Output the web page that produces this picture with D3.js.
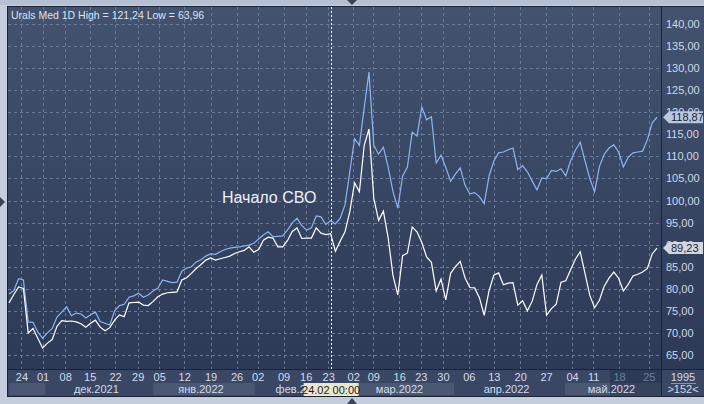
<!DOCTYPE html>
<html lang='ru'>
<head>
<meta charset='utf-8'>
<title>Urals Med</title>
<style>
  body { margin: 0; background: #c3cddb; }
  svg { display: block; font-family: 'Liberation Sans', Arial, sans-serif; }
</style>
<script src='https://d3js.org/d3.v7.min.js'></script>
</head>
<body>
<svg id='chart' width='704' height='404'></svg>
<script>
// upper (blue) line and Urals Med (white) line, one value per trading day
const brent = [78.8, 79.6, 82.3, 82.0, 72.5, 72.4, 70.2, 68.8, 70.0, 71.0,
  73.6, 74.7, 75.9, 73.9, 74.5, 74.3, 73.4, 74.1, 74.7, 72.6,
  72.2, 71.8, 75.0, 76.2, 76.5, 78.1, 78.4, 79.0, 78.1, 78.6,
  79.5, 80.1, 82.0, 81.7, 81.4, 81.5, 84.0, 84.7, 85.0, 86.1,
  86.6, 87.4, 87.9, 87.8, 88.4, 88.9, 89.2, 89.4, 89.5, 89.7,
  89.9, 90.3, 91.3, 92.2, 92.9, 91.8, 91.9, 92.0, 93.3, 94.9,
  96.0, 94.3, 93.3, 93.8, 96.5, 96.3, 94.6, 95.4, 94.7, 96.0,
  99.0, 106.5, 114.0, 112.5, 121.0, 129.1, 112.5, 110.5, 112.1, 107.5,
  102.0, 98.3, 105.5, 107.6, 115.5, 114.6, 121.2, 118.3, 119.0, 108.5,
  110.3, 107.5, 104.4, 106.0, 107.4, 103.5, 101.5, 101.8, 100.9, 99.3,
  105.5, 108.9, 110.8, 111.0, 111.5, 111.9, 107.0, 107.9, 106.5, 104.4,
  102.4, 105.1, 104.9, 106.8, 106.6, 107.2, 105.6, 109.0, 111.4, 113.2,
  109.0, 105.0, 102.0, 107.7, 110.5, 111.9, 112.6, 111.0, 107.6, 109.8,
  110.8, 111.0, 111.2, 113.8, 117.6, 118.87];

const urals = [76.8, 78.7, 80.4, 80.1, 70.0, 71.0, 68.8, 66.6, 67.7, 68.5,
  71.5, 72.8, 72.6, 72.7, 72.5, 72.1, 71.3, 72.2, 72.9, 71.3,
  70.5, 71.2, 72.9, 74.1, 73.7, 76.8, 76.9, 77.0, 76.3, 76.2,
  77.1, 78.2, 78.8, 79.1, 79.2, 79.3, 82.0, 82.5, 83.5, 84.6,
  85.5, 86.5, 87.0, 86.5, 86.8, 87.1, 87.4, 88.0, 88.4, 88.7,
  89.5, 88.3, 88.9, 91.0, 91.7, 91.5, 89.5, 89.5, 90.9, 93.0,
  93.8, 91.4, 91.5, 91.5, 93.8, 92.6, 92.3, 92.5, 88.5, 90.8,
  92.9, 97.5, 104.0, 102.0, 112.5, 116.2, 100.5, 95.5, 97.6, 91.5,
  83.0, 78.6, 87.5, 88.1, 94.0, 92.9, 90.5, 87.2, 86.0, 79.5,
  82.2, 77.5, 83.5, 85.0, 86.2, 82.5, 80.3, 80.2, 78.0, 74.0,
  79.5, 83.1, 83.6, 80.9, 81.3, 81.4, 76.3, 77.3, 75.0, 77.2,
  81.0, 83.1, 74.0, 75.5, 76.5, 81.5, 81.8, 84.3, 86.7, 88.4,
  83.5, 78.5, 75.7, 77.4, 80.6, 82.4, 83.8, 82.4, 79.5, 81.0,
  82.9, 83.3, 83.8, 84.6, 87.9, 89.23];

// weekly ticks (Wednesdays), position in trading-day index
const weekLabels = ['24', '01', '08', '15', '22', '29', '05', '12', '19', '26', '02', '09', '16', '23',
  '02', '09', '16', '23', '30', '06', '13', '20', '27', '04', '11', '18', '25'];
const weekPos = [2.6, 7, 11.7, 16.8, 22.1, 26.8, 31.3, 36.5, 42, 47.4, 51.8, 57.2, 61.8, 66.5,
  71.7, 75.9, 81.3, 85.8, 90.4, 95.8, 101, 106.5, 111.9, 117.3, 121.7, 127.1, 133.3];

const months = ['ноя.2021', 'дек.2021', 'янв.2022', 'фев.2022', 'мар.2022', 'апр.2022', 'май.2022'];
const monthStart = [-0.6, 7, 29.4, 50.6, 70.6, 92.1, 115.2];

const yTicks = [65, 70, 75, 80, 85, 90, 95, 100, 105, 110, 115, 120, 125, 130, 135, 140];

const markerPos = 67;          // 24.02
const markerLabel = '24.02 00:00';
const shadeFrom = 125.2;
const title = 'Urals Med 1D High = 121,24 Low = 63,96';
const note = 'Начало СВО';

const L = 8, T = 7, R = 661, B = 369, AXB = 396;
const fmt = d => d3.format('.2f')(d).replace('.', ',');

const x = d3.scaleLinear().domain([0, brent.length - 1]).range([9, 657]);
const y = d3.scaleLinear().domain([65, 140]).range([355, 24]);

const svg = d3.select('#chart');
const defs = svg.append('defs');

const grad = defs.append('linearGradient').attr('id', 'bg')
    .attr('x1', 0).attr('y1', 0).attr('x2', 0).attr('y2', 1);
grad.append('stop').attr('offset', '0%').attr('stop-color', '#43536f');
grad.append('stop').attr('offset', '100%').attr('stop-color', '#2c3957');

defs.append('clipPath').attr('id', 'clip')
    .append('rect').attr('x', L).attr('y', T).attr('width', R - L).attr('height', B - T);

// outer frame
svg.append('rect').attr('width', 704).attr('height', 404).attr('fill', '#c3cddb');
svg.append('rect').attr('x', 0).attr('y', 0).attr('width', 704).attr('height', 5).attr('fill', '#b5c1d2');

// plot and right panel
svg.append('rect').attr('x', L).attr('y', T).attr('width', 704 - L).attr('height', B - T)
    .attr('fill', 'url(#bg)');

// bottom axis panel
svg.append('rect').attr('x', L).attr('y', B).attr('width', 704 - L).attr('height', AXB - B)
    .attr('fill', '#394765');

svg.append('g').selectAll('rect')
    .data(months)
    .join('rect')
    .attr('x', (d, i) => x(monthStart[i]) + 3)
    .attr('y', 383)
    .attr('width', (d, i) => (i < months.length - 1 ? x(monthStart[i + 1]) : R) - x(monthStart[i]) - 3 + (i < months.length - 1 ? 3 : 0))
    .attr('height', 12)
    .attr('fill', (d, i) => i % 2 === 0 ? '#4a5874' : '#394765');

svg.append('rect').attr('x', x(shadeFrom)).attr('y', B + 1).attr('width', R - x(shadeFrom)).attr('height', AXB - B - 2)
    .attr('fill', '#1f2a42').attr('opacity', 0.45);

svg.append('g').selectAll('text')
    .data(months)
    .join('text')
    .filter((d, i) => i > 0)
    .attr('x', d => {
        const i = months.indexOf(d);
        const end = i < months.length - 1 ? x(monthStart[i + 1]) : R;
        return (x(monthStart[i]) + end) / 2;
    })
    .attr('y', 393)
    .attr('text-anchor', 'middle')
    .attr('font-size', 11)
    .attr('fill', '#d3dbe8')
    .text(d => d);

// grid
const grid = svg.append('g').attr('stroke', '#677a99').attr('stroke-width', 1)
    .attr('stroke-dasharray', '3,3');
grid.selectAll('.h')
    .data(yTicks)
    .join('line')
    .attr('x1', L).attr('x2', R)
    .attr('y1', d => Math.round(y(d)) + 0.5).attr('y2', d => Math.round(y(d)) + 0.5);
grid.selectAll('.v')
    .data(weekPos)
    .join('line')
    .attr('x1', d => Math.round(x(d)) + 0.5).attr('x2', d => Math.round(x(d)) + 0.5)
    .attr('y1', T).attr('y2', B);

// date marker
svg.append('line')
    .attr('x1', Math.round(x(markerPos)) + 0.5).attr('x2', Math.round(x(markerPos)) + 0.5)
    .attr('y1', T).attr('y2', B)
    .attr('stroke', '#ffffff').attr('stroke-dasharray', '2,2');

// lines
const line = d3.line().x((d, i) => x(i)).y(d => y(d));
const lines = svg.append('g').attr('clip-path', 'url(#clip)').attr('fill', 'none');
lines.append('path').datum(brent).attr('d', line).attr('stroke', '#8db5f2').attr('stroke-width', 1.2);
lines.append('path').datum(urals).attr('d', line).attr('stroke', '#ffffff').attr('stroke-width', 1.2);

// borders
svg.append('rect').attr('x', L - 0.5).attr('y', T - 0.5).attr('width', 704 - L + 1).attr('height', AXB - T + 1)
    .attr('fill', 'none').attr('stroke', '#1b2336');
svg.append('line').attr('x1', R + 0.5).attr('x2', R + 0.5).attr('y1', T).attr('y2', AXB).attr('stroke', '#1b2336');
svg.append('line').attr('x1', L).attr('x2', 704).attr('y1', B + 0.5).attr('y2', B + 0.5).attr('stroke', '#1b2336');

// right axis
const yAxis = svg.append('g')
    .attr('transform', `translate(${R},0)`)
    .call(d3.axisRight(y).tickValues(yTicks).tickSize(0).tickPadding(5).tickFormat(fmt));
yAxis.select('.domain').remove();
yAxis.selectAll('text').attr('fill', '#cfd9ea').attr('font-size', 11)
    .attr('font-family', "'Liberation Sans', Arial, sans-serif");

// bottom week labels
const xAxis = svg.append('g')
    .attr('transform', `translate(0,${B})`)
    .call(d3.axisBottom(x).tickValues(weekPos).tickSize(0).tickPadding(4)
        .tickFormat((d, i) => weekLabels[i]));
xAxis.select('.domain').remove();
xAxis.selectAll('text').attr('font-size', 11)
    .attr('font-family', "'Liberation Sans', Arial, sans-serif")
    .attr('fill', d => d >= shadeFrom ? '#6f7f9a' : '#d3dbe8');

// date marker label
const mx = x(markerPos);
svg.append('rect').attr('x', mx - 27).attr('y', 383).attr('width', 55).attr('height', 13).attr('fill', '#ebe7cb');
svg.append('text').attr('x', mx + 0.5).attr('y', 393.5).attr('text-anchor', 'middle')
    .attr('font-size', 11).attr('fill', '#1c2230').text(markerLabel);

// last-value tags
const tags = [
    { v: brent[brent.length - 1], bg: '#b9c8dc' },
    { v: urals[urals.length - 1], bg: '#d3d6dd' }
];
const tagG = svg.append('g').selectAll('g').data(tags).join('g')
    .attr('transform', d => `translate(${R + 2},${y(d.v)})`);
tagG.append('path')
    .attr('d', 'M0,0 L6,-6 L40,-6 L40,6 L6,6 Z')
    .attr('fill', d => d.bg);
tagG.append('text').attr('x', 8).attr('y', 4).attr('font-size', 11).attr('fill', '#1a2438')
    .text(d => fmt(d.v));

// corner cell
svg.append('text').attr('x', 683).attr('y', 381).attr('text-anchor', 'middle')
    .attr('font-size', 11).attr('fill', '#d3dbe8').text('1995');
svg.append('line').attr('x1', 671).attr('x2', 696).attr('y1', 383.5).attr('y2', 383.5).attr('stroke', '#8593aa');
svg.append('text').attr('x', 683).attr('y', 393).attr('text-anchor', 'middle')
    .attr('font-size', 11).attr('fill', '#d3dbe8').text('>152<');

// title and note
svg.append('text').attr('x', 11).attr('y', 19).attr('font-size', 10.5).attr('fill', '#dce3ef').text(title);
svg.append('text').attr('x', 222).attr('y', 203).attr('font-size', 16).attr('fill', '#eef1f6').text(note);

// small scroll triangles on the frame
svg.append('path').attr('d', 'M347,0 L357,0 L352,5 Z').attr('fill', '#3a4356');
svg.append('path').attr('d', 'M347,404 L357,404 L352,398 Z').attr('fill', '#3a4356');
svg.append('path').attr('d', 'M0,197 L0,207 L5,202 Z').attr('fill', '#3a4356');
</script>
</body>
</html>
